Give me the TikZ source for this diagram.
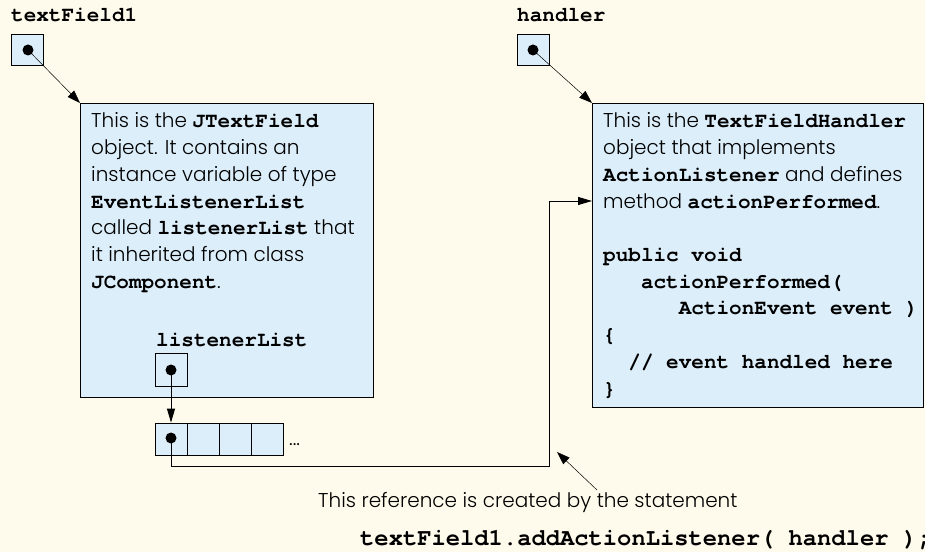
\documentclass[tikz,border=0pt]{standalone}
\usepackage{fontspec}
\setmainfont{Poppins}[UprightFont=* Light]
\setmonofont{texgyrecursor}[Extension=.otf,UprightFont=*-regular,BoldFont=*-bold]
\usetikzlibrary{arrows.meta}
\definecolor{bgc}{RGB}{255,251,236}
\definecolor{boxc}{RGB}{220,238,250}
\newcommand\cd[1]{{\fontsize{21bp}{26.7bp}\ttfamily\bfseries #1}}
\newcommand\sz{\fontsize{20bp}{26.7bp}\selectfont}
\begin{document}
\begin{tikzpicture}[x=1bp,y=-1bp,
  lbl/.style={anchor=base west,inner sep=0pt,font=\fontsize{21bp}{26.7bp}\ttfamily\bfseries},
  objbox/.style={draw,line width=0.8bp,fill=boxc,anchor=north west,inner sep=0pt},
  refbox/.style={draw,line width=0.8bp,fill=boxc,minimum width=32bp,minimum height=32bp,inner sep=0pt},
  dot/.style={circle,fill=black,inner sep=0pt,minimum size=11bp},
  txt/.style={anchor=base west,inner sep=0pt,font=\sz},
  ptr/.style={line width=0.5bp,-{Triangle[length=13bp,width=9bp]}},
  conn/.style={line width=0.9bp,-{Triangle[length=14bp,width=8bp]}}]
\fill[bgc] (0,0) rectangle (925,552);
\useasboundingbox (0,0) rectangle (925,552);

% textField1 reference
\node[lbl] (l1) at (11,22) {textField1};
\node[refbox,minimum height=31bp] (r1) at (27,49.5) {};
\node[dot] (d1) at (28,50) {};

% handler reference
\node[lbl] (l2) at (517,22) {handler};
\node[refbox,minimum height=31bp] (r2) at (533,49.5) {};
\node[dot] (d2) at (533,50) {};

% JTextField object
\node[objbox,minimum width=293bp,minimum height=294bp] (A) at (80,103) {};
\node[txt] (tA) at (91,128) {\parbox[t]{280bp}{\raggedright\sz
This is the \cd{JTextField}\\
object. It contains an\\
instance variable of type\\
\cd{EventListenerList}\\
called \cd{listenerList} that\\
it inherited from class\\
\cd{JComponent}.}};

% TextFieldHandler object
\node[objbox,minimum width=331bp,minimum height=304bp] (B) at (592,103) {};
\node[txt] (tB) at (603,128) {\parbox[t]{318bp}{\raggedright\sz
This is the \cd{TextFieldHandler}\\
object that implements\\
\cd{ActionListener} and defines\\
method \cd{actionPerformed}.\\
\mbox{}\\
\cd{public void}\\
\cd{\hspace*{37.8bp}actionPerformed(}\\
\cd{\hspace*{75.6bp}ActionEvent event )}\\
\cd{\{}\\
\cd{\hspace*{25.2bp}// event handled here}\\
\cd{\}}}};

% listenerList
\node[lbl] (l3) at (156,347) {listenerList};
\node[refbox,minimum height=33bp] (r3) at (171,369.5) {};
\node[dot] (d3) at (171,370) {};

% array cells
\node[refbox] (c1) at (171,439) {};
\node[refbox] (c2) at (203,439) {};
\node[refbox] (c3) at (235,439) {};
\node[refbox] (c4) at (267,439) {};
\node[dot] (d4) at (171,438) {};
\node[txt] (dots) at (289,445) {...};

% connectors
\draw[ptr] (d1.center) -- (A.north west);
\draw[ptr] (d2.center) -- (B.north west);
\draw[conn] (d3.center) -- (c1.north);
\coordinate (k1) at (549,466);
\coordinate (k2) at (549,201);
\draw[conn] (d4.center) |- (k1) -- (k2) -- (k2 -| B.west);

% note
\coordinate (p0) at (597,490);
\coordinate (p1) at (557,452);
\draw[ptr] (p0) -- (p1);
\node[txt] (s1) at (318,507) {This reference is created by the statement};
\node[anchor=base west,inner sep=0pt,font=\fontsize{23.8bp}{28bp}\ttfamily\bfseries] (s2) at (360,545) {textField1.addActionListener( handler );};
\end{tikzpicture}
\end{document}
